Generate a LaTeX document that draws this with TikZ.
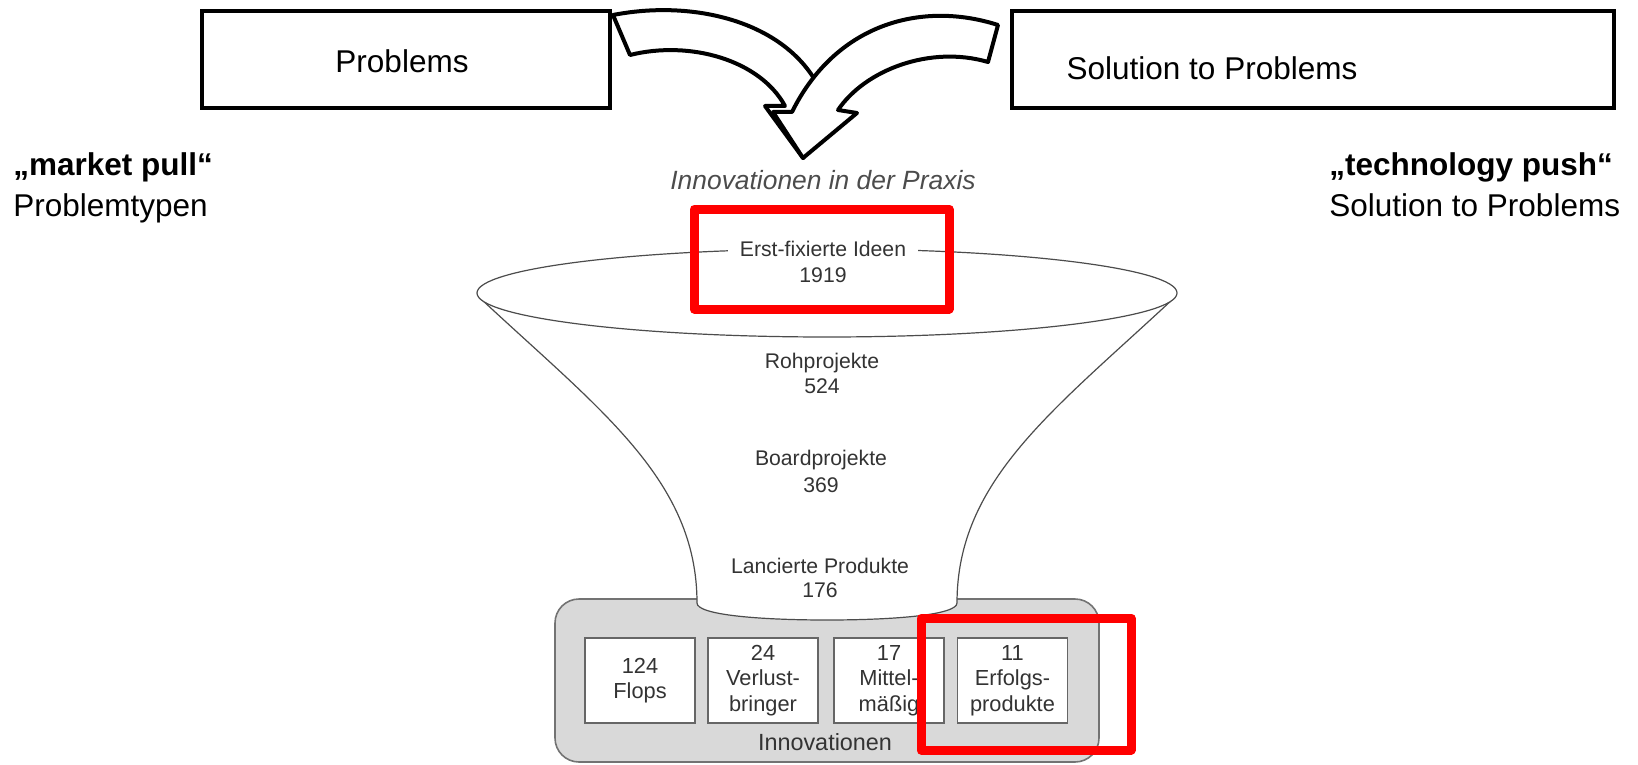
\documentclass[tikz,border=0pt]{standalone}
\usepackage{fontspec}
\setmainfont{Liberation Sans}
\begin{document}
\begin{tikzpicture}[x=0.5pt,y=-0.5pt,
  bigbox/.style={draw, line width=2pt, inner sep=0pt, minimum height=48.5pt},
  bigtext/.style={font=\fontsize{15.75}{18}\selectfont, inner sep=0pt},
  boldtext/.style={font=\fontsize{15.75}{18}\selectfont\bfseries, inner sep=0pt},
  blockarrow/.style={draw, fill=white, line width=2pt, line join=round},
  redframe/.style={draw=red, line width=4.5pt, line join=round},
  funnelline/.style={draw=black!70, line width=0.6pt},
  funneltext/.style={font=\fontsize{10.6}{12}\selectfont, text=black!80, align=center, inner sep=1pt},
  smallbox/.style={draw=black!60, fill=white, line width=0.8pt, minimum width=55pt, minimum height=42.5pt, inner sep=0pt, align=center, font=\fontsize{10.9}{12.75}\selectfont, text=black!80},
  greybox/.style={draw=black!55, fill=black!15, line width=0.8pt, rounded corners=12pt}
]
\useasboundingbox (0,0) rectangle (1638,765);

% top boxes
\node[bigbox, minimum width=204pt] (problems) at (406,59.5) {};
\node[bigtext, anchor=base] (problemstext) at (402,73) {Problems};
\node[bigbox, minimum width=301pt] (solution) at (1313,59.5) {};
\node[bigtext, anchor=base] (solutiontext) at (1212,80) {Solution to Problems};

% curved block arrows
\draw[blockarrow] (613,15) .. controls (700,-2) and (800,25) .. (826,104) -- (838,114) -- (803,158) -- (765,106) -- (785,106) .. controls (760,60) and (690,40) .. (630,55) -- cycle;
\draw[blockarrow] (998,25) .. controls (920,0) and (835,25) .. (792,112) -- (773,112) -- (803,158) -- (857,113) -- (838,110) .. controls (865,70) and (930,45) .. (988,62) -- cycle;

% side labels
\node[boldtext, anchor=base west] (mpull) at (13,176) {„market pull“};
\node[bigtext, anchor=base west] (ptypen) at (13,216) {Problemtypen};
\node[boldtext, anchor=base west] (tpush) at (1329,176) {„technology push“};
\node[bigtext, anchor=base west] (stp) at (1329,216) {Solution to Problems};

% heading
\node[font=\fontsize{13.2}{15}\selectfont\itshape, text=black!70, inner sep=0pt] (praxis) at (823,180) {Innovationen in der Praxis};

% grey box
\draw[greybox] (555,599) rectangle (1099,762);
\node[font=\fontsize{11.7}{13}\selectfont, text=black!80] (innov) at (825,742) {Innovationen};

% funnel body
\fill[white] (480,298) .. controls (600,410) and (697,480) .. (697,603)
  .. controls (697,615) and (760,620) .. (827,620)
  .. controls (894,620) and (957,615) .. (957,603)
  .. controls (957,480) and (1054,410) .. (1174,298) -- cycle;
\draw[funnelline] (480,298) .. controls (600,410) and (697,480) .. (697,603)
  .. controls (697,615) and (760,620) .. (827,620)
  .. controls (894,620) and (957,615) .. (957,603)
  .. controls (957,480) and (1054,410) .. (1174,298);
\draw[funnelline, fill=white] (827,293) ellipse [x radius=350, y radius=44];

% funnel texts
\node[funneltext, fill=white, inner xsep=6pt] (erst) at (823,249) {Erst-fixierte Ideen};
\node[funneltext] (n1919) at (823,275) {1919};
\node[funneltext] (roh) at (822,363) {Rohprojekte};
\node[funneltext] (n524) at (822,386) {524};
\node[funneltext] (board) at (821,460) {Boardprojekte};
\node[funneltext] (n369) at (821,485) {369};
\node[funneltext] (lanc) at (820,566) {Lancierte Produkte};
\node[funneltext] (n176) at (820,590) {176};

% result boxes
\node[smallbox] (flops) at (640,680.5) {124\\Flops};
\node[smallbox] (verlust) at (763,680.5) {24\\Verlust-\\bringer};
\node[smallbox] (mittel) at (889,680.5) {17\\Mittel-\\mäßig};
\node[smallbox] (erfolg) at (1012.5,680.5) {11\\Erfolgs-\\produkte};

% red highlight frames
\draw[redframe] (694,209) rectangle (949,309);
\draw[redframe] (921,618) rectangle (1131,750);
\end{tikzpicture}
\end{document}
